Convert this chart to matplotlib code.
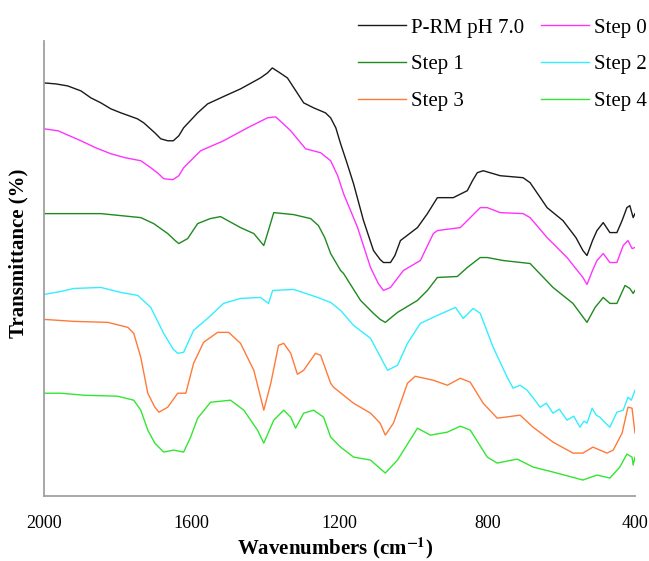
import matplotlib.pyplot as plt

# === DATA (wavenumber in cm-1, transmittance in arbitrary offset units) ===
wn_prm = [2000, 1968, 1936, 1900, 1873, 1846, 1819, 1792, 1747, 1730, 1700, 1684, 1665, 1650,
          1635, 1622, 1584, 1557, 1510, 1468, 1414, 1395, 1382, 1365, 1341, 1297, 1270, 1238,
          1224, 1210, 1197, 1180, 1162, 1135, 1108, 1090, 1081, 1062, 1050, 1035, 989, 962, 935,
          892, 854, 840, 827, 811, 765, 703, 684, 660, 638, 595, 560, 541, 530, 515, 503, 486,
          468, 449, 435, 422, 414, 405, 400]
t_prm = [413, 412, 410, 405, 398, 393, 387, 383, 377, 373, 363, 357, 355, 355,
         360, 368, 383, 392, 400, 407, 418, 423, 428, 424, 418, 393, 388, 383,
         378, 368, 352, 333, 312, 275, 245, 236, 233, 233, 240, 255, 268, 282, 298,
         298, 305, 315, 323, 325, 320, 318, 313, 300, 288, 275, 258, 245, 240, 255, 265, 273,
         263, 263, 275, 288, 290, 278, 282]

wn_s0 = [2000, 1962, 1900, 1860, 1819, 1780, 1738, 1711, 1690, 1676, 1651, 1635, 1622, 1576,
         1514, 1449, 1395, 1373, 1355, 1332, 1292, 1251, 1224, 1205, 1189, 1170, 1151, 1116, 1095,
         1081, 1062, 1027, 981, 946, 935, 873, 846, 819, 800, 765, 703, 684, 638, 584, 541, 530,
         515, 503, 486, 468, 449, 432, 419, 408, 400]
t_s0 = [367, 365, 355, 348, 342, 338, 335, 328, 322, 317, 316, 320, 328, 345,
        355, 368, 378, 379, 373, 365, 347, 343, 335, 320, 302, 285, 268, 228, 212,
        205, 208, 225, 235, 262, 265, 268, 278, 288, 288, 283, 282, 278, 258, 238, 218, 211,
        225, 235, 242, 233, 233, 250, 255, 247, 248]

wn_s1 = [2000, 1846, 1792, 1738, 1703, 1665, 1645, 1635, 1611, 1584, 1550, 1522, 1468, 1432,
         1405, 1395, 1378, 1324, 1278, 1257, 1240, 1224, 1197, 1189, 1143, 1108, 1090, 1076,
         1043, 989, 962, 935, 881, 854, 819, 800, 757, 684, 622, 568, 530, 508, 486, 468, 449,
         427, 414, 405, 400]
t_s1 = [282, 282, 280, 278, 272, 262, 255, 252, 257, 272, 277, 279, 268, 262,
        250, 262, 283, 281, 277, 270, 258, 242, 225, 222, 195, 182, 176, 173,
        183, 195, 205, 218, 219, 228, 238, 238, 235, 232, 208, 192, 173, 188, 198, 192, 192,
        210, 207, 202, 205]

wn_s2 = [2000, 1954, 1919, 1846, 1792, 1746, 1711, 1676, 1650, 1638, 1622, 1595, 1557, 1514,
         1468, 1414, 1392, 1381, 1324, 1259, 1224, 1197, 1162, 1116, 1070, 1043, 1016, 981,
         935, 886, 865, 838, 819, 784, 746, 730, 711, 692, 675, 657, 640, 622, 605, 584, 566,
         549, 538, 530, 516, 505, 495, 480, 468, 449, 432, 419, 410, 400]
t_s2 = [201, 204, 207, 208, 203, 200, 188, 162, 146, 142, 143, 165, 177, 192,
        197, 198, 192, 205, 206, 198, 193, 185, 170, 157, 125, 130, 152, 172,
        180, 188, 177, 187, 182, 148, 118, 107, 110, 105, 97, 88, 92, 82, 86, 75, 79,
        68, 74, 72, 87, 80, 78, 72, 68, 83, 85, 98, 95, 105]

wn_s3 = [2000, 1919, 1827, 1773, 1757, 1738, 1719, 1700, 1689, 1665, 1638, 1616, 1595, 1568,
         1530, 1500, 1468, 1432, 1415, 1405, 1386, 1365, 1351, 1332, 1314, 1297, 1265, 1251,
         1224, 1216, 1162, 1116, 1090, 1076, 1054, 1016, 995, 946, 908, 873, 846, 811, 773,
         711, 676, 622, 568, 541, 514, 476, 459, 435, 419, 408, 400]
t_s3 = [176, 174, 173, 168, 162, 138, 102, 88, 83, 88, 102, 102, 132, 153,
        163, 163, 152, 125, 100, 85, 112, 150, 152, 142, 121, 125, 142, 140,
        112, 108, 92, 82, 72, 60, 72, 112, 119, 115, 110, 117, 113, 92, 77,
        80, 68, 53, 42, 42, 48, 42, 45, 62, 88, 87, 62]

wn_s4 = [2000, 1954, 1892, 1800, 1757, 1738, 1719, 1700, 1676, 1649, 1622, 1603, 1584, 1549,
         1495, 1459, 1422, 1405, 1378, 1351, 1332, 1319, 1297, 1270, 1243, 1224, 1197, 1162,
         1116, 1076, 1043, 989, 954, 908, 873, 846, 800, 773, 719, 676, 622, 541, 503, 468,
         441, 422, 408, 405, 400]
t_s4 = [102, 102, 100, 99, 95, 85, 65, 52, 43, 45, 43, 58, 77, 93,
        95, 85, 65, 52, 75, 85, 78, 67, 82, 85, 78, 58, 48, 38,
        35, 22, 35, 67, 60, 63, 69, 65, 38, 32, 36, 28, 23, 15, 20, 17,
        28, 41, 38, 30, 38]

series = [
    ("P-RM pH 7.0", wn_prm, t_prm, '#1a1a1a'),
    ("Step 0", wn_s0, t_s0, '#ff33ff'),
    ("Step 1", wn_s1, t_s1, '#1f8a1f'),
    ("Step 2", wn_s2, t_s2, '#33eeff'),
    ("Step 3", wn_s3, t_s3, '#ff7a3a'),
    ("Step 4", wn_s4, t_s4, '#33e633'),
]

# === PLOT ===
plt.rcParams['font.family'] = ['Liberation Serif', 'DejaVu Serif']
plt.rcParams['mathtext.fontset'] = 'stix'

fig = plt.figure(figsize=(6.49, 5.61), dpi=100)
ax = fig.add_axes([44 / 649, 65 / 561, 591 / 649, 455 / 561])

lines = {}
for name, x, y, c in series:
    lines[name], = ax.plot(x, y, color=c, lw=1.0, label=name)

ax.set_xlim(2000, 400)
ax.set_ylim(-1, 455)
ax.set_xticks([2000, 1600, 1200, 800, 400])
ax.set_yticks([])
ax.tick_params(axis='x', length=0, pad=14, labelsize=13)
for s in ['top', 'right']:
    ax.spines[s].set_visible(False)
for s in ['left', 'bottom']:
    ax.spines[s].set_color('#a0a0a0')
    ax.spines[s].set_linewidth(1.3)

fig.text(335 / 649, 1 - 548 / 561, "Wavenumbers (cm$^{\\mathbf{-1}}$)", fontsize=15,
         fontweight='bold', ha='center', va='center')
fig.text(18 / 649, 1 - 253 / 561, "Transmittance (%)", rotation=90, fontsize=15,
         fontweight='bold', ha='center', va='center')

order = ["P-RM pH 7.0", "Step 1", "Step 3", "Step 0", "Step 2", "Step 4"]
fig.legend([lines[n] for n in order], order, ncol=2, frameon=False, fontsize=15,
           loc='upper left', bbox_to_anchor=(358 / 649, 1 - 18 / 561),
           borderpad=0, borderaxespad=0, handlelength=2.3, handletextpad=0.25,
           columnspacing=0.8, labelspacing=0.83)

fig.savefig('out.png', dpi=100)
